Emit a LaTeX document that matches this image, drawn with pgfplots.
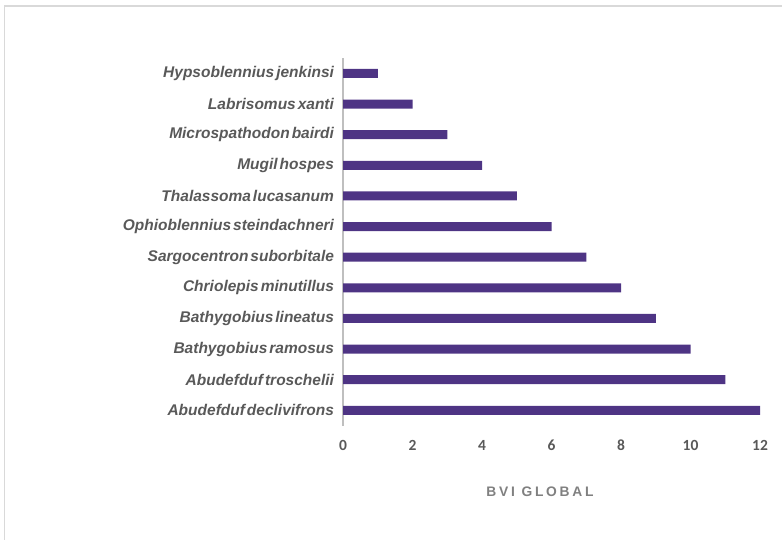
\documentclass[border=0pt]{standalone}
\usepackage{pgfplots}
\pgfplotsset{compat=1.18}
\usepackage{fontspec}
\setmainfont{Liberation Sans}
\newfontfamily\carlito{Carlito}
\newfontfamily\lab[WordSpace=0.45]{Liberation Sans}
\newfontfamily\spaced[LetterSpace=20]{Liberation Sans}
\definecolor{barcol}{RGB}{78,52,132}
\definecolor{txtgray}{RGB}{89,89,89}
\definecolor{axgray}{RGB}{191,191,191}
\definecolor{framegray}{RGB}{217,217,217}
\begin{document}
\begin{tikzpicture}[x=1pt,y=1pt]
\useasboundingbox (0,0) rectangle (782,540);
\draw[framegray,line width=1.2pt] (4.5,-5) -- (4.5,534) -- (790,534);
\begin{axis}[
  at={(343pt,114.3pt)}, anchor=south west,
  scale only axis, width=417pt, height=367.6pt,
  xmin=0, xmax=12, ymin=0.5, ymax=12.5,
  xbar, bar width=9pt,
  axis x line=none,
  axis y line*=left,
  y axis line style={draw=axgray,line width=1.6pt,-},
  xtick={0,2,...,12}, ytick={1,...,12},
  major tick length=0pt,
  yticklabels={Abudefduf declivifrons, Abudefduf troschelii, Bathygobius ramosus, Bathygobius lineatus, Chriolepis minutillus, Sargocentron suborbitale, Ophioblennius steindachneri, Thalassoma lucasanum, Mugil hospes, Microspathodon bairdi, Labrisomus xanti, Hypsoblennius jenkinsi},
  yticklabel style={font=\lab\fontsize{15.5}{17}\selectfont\bfseries\itshape, text=txtgray, xshift=-5.5pt},
  clip=false,
]
\addplot[draw=none, fill=barcol] coordinates {
(12,1) (11,2) (10,3) (9,4) (8,5) (7,6) (6,7) (5,8) (4,9) (3,10) (2,11) (1,12)};
\pgfplotsinvokeforeach{0,2,4,6,8,10,12}{
  \node[font=\carlito\fontsize{15.5}{17}\selectfont\bfseries, text=txtgray, anchor=center] at (axis cs:#1,0.5) [yshift=-19.5pt] {#1};
}
\node[font=\spaced\fontsize{13.8}{15}\selectfont\bfseries, text=gray, anchor=center] at (axis cs:5.67,0.5) [yshift=-66.5pt] {BVI GLOBAL};
\end{axis}
\end{tikzpicture}
\end{document}
